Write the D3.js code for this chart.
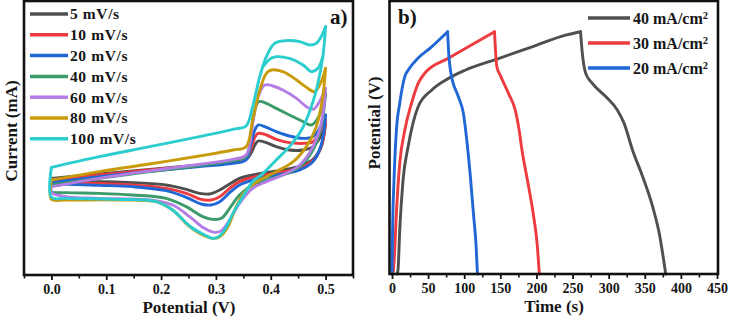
<!DOCTYPE html>
<html>
<head>
<meta charset="utf-8">
<script src="https://cdn.jsdelivr.net/npm/d3@7/dist/d3.min.js"></script>
<style>
body { margin: 0; background: #fff; }
text { font-family: "Liberation Serif", "Times New Roman", serif; font-weight: bold; fill: #151515; }
</style>
</head>
<body>
<div id="chart"></div>
<script>
// ---------- panel a) : CV curves, [potential V, current mA] ----------
var cvLabels = ["5 mV/s", "10 mV/s", "20 mV/s", "40 mV/s", "60 mV/s", "80 mV/s", "100 mV/s"];
var cvColors = ["#4f4f4f", "#ee3b3f", "#2067d6", "#3b9b6b", "#b47de6", "#c89b0a", "#2bcdcf"];

var cv5Up = [[0,-0.567],[0.087,-0.48],[0.179,-0.387],[0.27,-0.3],[0.331,-0.233],[0.355,-0.187],[0.364,-0.067],[0.371,0.1],[0.377,0.18],[0.392,0.147],[0.41,0.067],[0.434,0],[0.459,0],[0.477,0.067],[0.489,0.233],[0.5,0.533]];
var cv5Down = [[0.492,0.067],[0.477,-0.187],[0.453,-0.32],[0.422,-0.4],[0.392,-0.453],[0.367,-0.5],[0.343,-0.567],[0.325,-0.68],[0.307,-0.8],[0.288,-0.88],[0.27,-0.867],[0.246,-0.787],[0.209,-0.7],[0.148,-0.653],[0.087,-0.633],[0.026,-0.62],[0,-0.633]];

var cv10Up = [[0,-0.6],[0.087,-0.5],[0.179,-0.4],[0.27,-0.313],[0.331,-0.247],[0.355,-0.187],[0.364,0.033],[0.371,0.253],[0.377,0.333],[0.392,0.3],[0.41,0.213],[0.434,0.147],[0.459,0.133],[0.477,0.167],[0.489,0.333],[0.5,0.6]];
var cv10Down = [[0.492,0.067],[0.477,-0.213],[0.453,-0.367],[0.422,-0.44],[0.392,-0.493],[0.367,-0.547],[0.343,-0.633],[0.325,-0.767],[0.307,-0.933],[0.291,-1.0],[0.273,-0.987],[0.246,-0.867],[0.209,-0.767],[0.148,-0.7],[0.087,-0.667],[0.026,-0.653],[0,-0.667]];

var cv20Up = [[0,-0.653],[0.087,-0.533],[0.179,-0.427],[0.27,-0.333],[0.331,-0.267],[0.355,-0.2],[0.364,0.133],[0.371,0.4],[0.377,0.5],[0.392,0.453],[0.41,0.367],[0.434,0.28],[0.459,0.233],[0.477,0.267],[0.489,0.433],[0.5,0.7]];
var cv20Down = [[0.492,0.1],[0.477,-0.233],[0.453,-0.4],[0.422,-0.48],[0.392,-0.533],[0.367,-0.6],[0.343,-0.7],[0.325,-0.853],[0.307,-1.033],[0.291,-1.1],[0.273,-1.08],[0.246,-0.947],[0.209,-0.813],[0.148,-0.733],[0.087,-0.707],[0.026,-0.687],[0,-0.7]];

var cv40Up = [[0,-0.7],[0.087,-0.567],[0.179,-0.433],[0.27,-0.313],[0.331,-0.213],[0.355,-0.133],[0.364,0.333],[0.371,0.8],[0.378,0.967],[0.392,0.933],[0.41,0.833],[0.434,0.7],[0.459,0.567],[0.474,0.5],[0.486,0.633],[0.5,1.133]];
var cv40Down = [[0.492,0.467],[0.477,0],[0.453,-0.333],[0.422,-0.5],[0.392,-0.6],[0.367,-0.7],[0.343,-0.9],[0.325,-1.167],[0.31,-1.367],[0.294,-1.387],[0.276,-1.333],[0.246,-1.133],[0.209,-0.967],[0.148,-0.9],[0.087,-0.867],[0.026,-0.853],[0,-0.833]];

var cv60Up = [[0,-0.733],[0.087,-0.567],[0.179,-0.42],[0.27,-0.287],[0.331,-0.187],[0.355,-0.1],[0.367,0.533],[0.377,1.067],[0.389,1.3],[0.404,1.28],[0.422,1.2],[0.447,1.033],[0.465,0.867],[0.477,0.813],[0.489,0.967],[0.5,1.233]];
var cv60Down = [[0.492,0.533],[0.477,0.067],[0.453,-0.3],[0.422,-0.5],[0.392,-0.633],[0.367,-0.767],[0.343,-1.067],[0.325,-1.4],[0.31,-1.613],[0.297,-1.647],[0.279,-1.567],[0.252,-1.333],[0.221,-1.1],[0.179,-1.0],[0.087,-0.967],[0.026,-0.933],[0,-0.853]];

var cv80Up = [[0,-0.6],[0.087,-0.433],[0.179,-0.28],[0.27,-0.12],[0.331,0],[0.355,0.067],[0.367,0.6],[0.38,1.2],[0.392,1.533],[0.401,1.6],[0.422,1.567],[0.447,1.4],[0.465,1.253],[0.48,1.167],[0.492,1.367],[0.5,1.633]];
var cv80Down = [[0.494,1.0],[0.483,0.467],[0.465,0.067],[0.441,-0.233],[0.41,-0.433],[0.38,-0.6],[0.355,-0.8],[0.337,-1.133],[0.322,-1.533],[0.307,-1.733],[0.294,-1.767],[0.276,-1.7],[0.252,-1.533],[0.221,-1.2],[0.191,-1.033],[0.118,-1.0],[0.026,-1.0],[0,-0.987]];

var cv100Up = [[0,-0.347],[0.087,-0.133],[0.179,0.067],[0.27,0.267],[0.331,0.413],[0.355,0.48],[0.367,0.867],[0.38,1.467],[0.392,1.867],[0.407,2.133],[0.428,2.187],[0.453,2.167],[0.471,2.1],[0.483,2.133],[0.492,2.267],[0.5,2.467]];
var cv100Down = [[0.495,1.867],[0.486,1.333],[0.474,0.867],[0.456,0.4],[0.434,0.067],[0.41,-0.2],[0.386,-0.467],[0.367,-0.633],[0.349,-0.933],[0.331,-1.267],[0.316,-1.6],[0.303,-1.747],[0.294,-1.767],[0.276,-1.68],[0.252,-1.52],[0.221,-1.2],[0.191,-1.033],[0.118,-0.987],[0.026,-0.967],[0,-0.947]];
// second anodic trace seen inside the 100 mV/s loop
var cv100Inner = [[0.386,1.667],[0.404,1.853],[0.434,1.833],[0.459,1.7],[0.474,1.567],[0.486,1.633],[0.495,1.867]];

var cvUp = [cv5Up, cv10Up, cv20Up, cv40Up, cv60Up, cv80Up, cv100Up];
var cvDown = [cv5Down, cv10Down, cv20Down, cv40Down, cv60Down, cv80Down, cv100Down];
var cvTicks = [0, 0.1, 0.2, 0.3, 0.4, 0.5];

// ---------- panel b) : GCD curves, [time s, potential V] ----------
var gcdLabels = ["40 mA/cm", "30 mA/cm", "20 mA/cm"];
var gcdColors = ["#4f4f4f", "#ee3b3f", "#2067d6"];

var gcd40Charge = [[7,0],[8.3,0.008],[10.7,0.09],[15.3,0.193],[22.3,0.261],[36.2,0.343],[54.8,0.377],[77.9,0.401],[101.2,0.418],[147.5,0.442],[194,0.466],[240.3,0.49],[261,0.497]];
var gcd40Discharge = [[261,0.497],[263.5,0.453],[268.1,0.412],[277.4,0.391],[295.9,0.364],[312.2,0.336],[321.4,0.309],[333.1,0.254],[347,0.2],[360.9,0.138],[370.1,0.083],[379,0]];

var gcd30Charge = [[1.5,0],[2.8,0.022],[6.1,0.125],[10.7,0.227],[17.7,0.295],[27,0.35],[36.2,0.391],[45.5,0.412],[77.9,0.4425],[105.7,0.466],[141.9,0.497]];
var gcd30Discharge = [[141.9,0.497],[145.2,0.425],[149.8,0.408],[161.4,0.37],[170.7,0.336],[175.3,0.302],[180,0.254],[189.2,0.179],[196.2,0.1175],[200.9,0.063],[204,0]];

var gcd20Charge = [[0,0],[0.8,0.09],[2.8,0.193],[6.1,0.295],[10.7,0.35],[17.7,0.405],[22.3,0.418],[36.2,0.443],[54.8,0.466],[77,0.497]];
var gcd20Discharge = [[77,0.497],[78.2,0.46],[81.6,0.412],[91.8,0.364],[98.8,0.33],[103.5,0.275],[108.1,0.207],[112.7,0.125],[116.5,0.056],[118.3,0]];

var gcdCharge = [gcd40Charge, gcd30Charge, gcd20Charge];
var gcdDischarge = [gcd40Discharge, gcd30Discharge, gcd20Discharge];
var gcdTicks = [0, 50, 100, 150, 200, 250, 300, 350, 400, 450];

// ---------- drawing ----------
var svg = d3.select("#chart")
    .append("svg")
    .attr("width", 730)
    .attr("height", 320);

function bottomTicks(g, x, major, minor, fmt, y0) {
    g.append("g")
        .attr("transform", "translate(0," + y0 + ")")
        .call(d3.axisBottom(x).tickValues(minor).tickSize(2.5).tickFormat(""))
        .call(function(a) { a.select(".domain").remove(); a.selectAll("line").attr("stroke", "#111").attr("stroke-width", 1.6); });
    var ax = g.append("g")
        .attr("transform", "translate(0," + y0 + ")")
        .call(d3.axisBottom(x).tickValues(major).tickSize(4).tickFormat(fmt))
        .attr("font-family", null)
        .attr("font-size", null);
    ax.select(".domain").remove();
    ax.selectAll("line").attr("stroke", "#111").attr("stroke-width", 1.8);
    ax.selectAll("text").attr("font-size", 14).attr("y", 8).attr("dy", "0.71em");
}

// panel a
var xa = d3.scaleLinear().domain([-0.05, 0.55]).range([24, 353]);
var ya = d3.scaleLinear().domain([-2.5, 3]).range([275, 0]);
var ga = svg.append("g");

var cvLine = d3.line()
    .x(function(d) { return xa(d[0]); })
    .y(function(d) { return ya(d[1]); })
    .curve(d3.curveCatmullRom.alpha(0.5));

cvUp.forEach(function(up, i) {
    var down = [up[up.length - 1]].concat(cvDown[i]).concat([up[0]]);
    [up, down].forEach(function(seg) {
        ga.append("path")
            .attr("d", cvLine(seg))
            .attr("fill", "none")
            .attr("stroke", cvColors[i])
            .attr("stroke-width", 2.9)
            .attr("stroke-linejoin", "round")
            .attr("stroke-linecap", "round");
    });
    if (i == 6) {
        ga.append("path")
            .attr("d", cvLine(cv100Inner))
            .attr("fill", "none")
            .attr("stroke", cvColors[i])
            .attr("stroke-width", 2.9)
            .attr("stroke-linecap", "round");
    }
});

ga.append("rect")
    .attr("x", 24).attr("y", 1).attr("width", 329).attr("height", 274)
    .attr("fill", "none").attr("stroke", "#111").attr("stroke-width", 2.6);

bottomTicks(ga, xa, cvTicks, d3.range(-0.05, 0.56, 0.1), d3.format(".1f"), 276);

ga.append("text").attr("x", 189).attr("y", 313).attr("text-anchor", "middle")
    .attr("font-size", 17).text("Potential (V)");
ga.append("text").attr("transform", "translate(17,131) rotate(-90)").attr("text-anchor", "middle")
    .attr("font-size", 17).text("Current (mA)");
ga.append("text").attr("x", 330).attr("y", 24).attr("font-size", 21).text("a)");

cvLabels.forEach(function(lab, i) {
    var cy = 14 + i * 20.8;
    ga.append("line").attr("x1", 30).attr("x2", 68).attr("y1", cy).attr("y2", cy)
        .attr("stroke", cvColors[i]).attr("stroke-width", 3.5);
    ga.append("text").attr("x", 70).attr("y", cy).attr("dy", "0.35em")
        .attr("font-size", 15.5).attr("letter-spacing", 0.6).text(lab);
});

// panel b
var xb = d3.scaleLinear().domain([0, 450]).range([392, 717]);
var yb = d3.scaleLinear().domain([0, 0.56]).range([274, 1]);
var gb = svg.append("g");

var gcdLine = d3.line()
    .x(function(d) { return xb(d[0]); })
    .y(function(d) { return yb(d[1]); })
    .curve(d3.curveMonotoneX);

gcdCharge.forEach(function(ch, i) {
    [ch, gcdDischarge[i]].forEach(function(seg) {
        gb.append("path")
            .attr("d", gcdLine(seg))
            .attr("fill", "none")
            .attr("stroke", gcdColors[i])
            .attr("stroke-width", 2.9)
            .attr("stroke-linecap", "round");
    });
});

gb.append("rect")
    .attr("x", 389.5).attr("y", 1).attr("width", 328.5).attr("height", 273)
    .attr("fill", "none").attr("stroke", "#111").attr("stroke-width", 2.6);

bottomTicks(gb, xb, gcdTicks, d3.range(25, 450, 50), d3.format("d"), 275);

gb.append("text").attr("x", 554).attr("y", 312).attr("text-anchor", "middle")
    .attr("font-size", 17).text("Time (s)");
gb.append("text").attr("transform", "translate(380,123) rotate(-90)").attr("text-anchor", "middle")
    .attr("font-size", 17).text("Potential (V)");
gb.append("text").attr("x", 398).attr("y", 24).attr("font-size", 21).text("b)");

gcdLabels.forEach(function(lab, i) {
    var cy = 18 + i * 25;
    gb.append("line").attr("x1", 588).attr("x2", 630).attr("y1", cy).attr("y2", cy)
        .attr("stroke", gcdColors[i]).attr("stroke-width", 3.5);
    var t = gb.append("text").attr("x", 633).attr("y", cy).attr("dy", "0.35em")
        .attr("font-size", 16).text(lab);
    t.append("tspan").attr("dy", "-0.45em").attr("font-size", 10.5).text("2");
});
</script>
</body>
</html>
